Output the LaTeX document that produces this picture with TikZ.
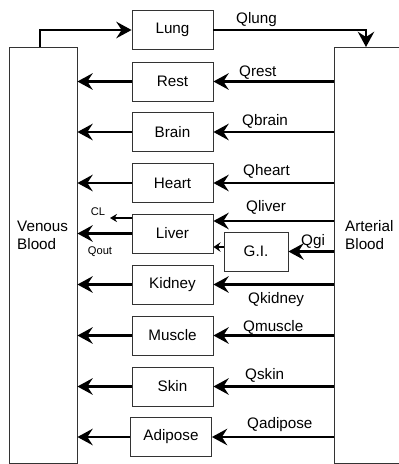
\documentclass[tikz,border=0pt]{standalone}
\usepackage{fontspec}
\setmainfont{Liberation Sans}
\usetikzlibrary{arrows.meta,calc}

\begin{document}
\begin{tikzpicture}[x=0.03cm, y=-0.03cm,
  organ/.style={draw=black!80, line width=0.7pt, minimum width=2.43cm, minimum height=1.17cm, inner sep=0pt, font=\fontsize{13}{15.5}\selectfont},
  pool/.style={draw=black!80, line width=0.7pt, minimum height=12.48cm, inner sep=0pt},
  flow/.style={line width=2.4pt, -{Stealth[length=13pt,width=14pt,inset=4.5pt]}},
  smallflow/.style={line width=2.4pt, -{Stealth[length=6pt,width=8pt,inset=2pt]}},
  clflow/.style={line width=1.3pt, -{Stealth[length=6pt,width=7pt,inset=2pt]}},
  lbl/.style={anchor=base west, inner sep=0pt, font=\fontsize{13}{15.5}\selectfont},
  tiny/.style={inner sep=0pt, font=\fontsize{9.5}{11}\selectfont}]
\useasboundingbox (0,0) rectangle (399,464);

\node (venous) at (43,255) [pool, minimum width=2.04cm] {};
\node (arterial) at (377,255) [pool, minimum width=2.58cm] {};
\node (vtext) at (17,235) [anchor=west, align=left, inner sep=0pt, font=\fontsize{13}{15.5}\selectfont] {Venous\\Blood};
\node (atext) at (345,235) [anchor=west, align=left, inner sep=0pt, font=\fontsize{13}{15.5}\selectfont] {Arterial\\Blood};

\node (lung) at (172.5,30) [organ] {Lung};
\node (rest) at (172.5,81.5) [organ] {Rest};
\node (brain) at (172.5,132) [organ] {Brain};
\node (heart) at (172.5,183) [organ] {Heart};
\node (liver) at (172.5,233.5) [organ] {Liver};
\node (kidney) at (172.5,284.5) [organ] {Kidney};
\node (muscle) at (172.5,335.5) [organ] {Muscle};
\node (skin) at (172.5,386.5) [organ] {Skin};
\node (adipose) at (171,437) [organ] {Adipose};
\node (gi) at (256,251.5) [organ, minimum width=1.92cm] {G.I.};

\coordinate (vtop) at (40,47);
\coordinate (atop) at (366,47);
\draw [flow] (vtop) |- (lung.west);
\draw [flow] (lung.east) -| (atop);

\draw [flow] (rest.east -| arterial.west) -- (rest.east);
\draw [flow] (rest.west) -- (rest.west -| venous.east);
\draw [flow] (brain.east -| arterial.west) -- (brain.east);
\draw [flow] (brain.west) -- (brain.west -| venous.east);
\draw [flow] (heart.east -| arterial.west) -- (heart.east);
\draw [flow] (heart.west) -- (heart.west -| venous.east);
\draw [flow] (kidney.east -| arterial.west) -- (kidney.east);
\draw [flow] (kidney.west) -- (kidney.west -| venous.east);
\draw [flow] (muscle.east -| arterial.west) -- (muscle.east);
\draw [flow] (muscle.west) -- (muscle.west -| venous.east);
\draw [flow] (skin.east -| arterial.west) -- (skin.east);
\draw [flow] (skin.west) -- (skin.west -| venous.east);
\draw [flow] (adipose.east -| arterial.west) -- (adipose.east);
\draw [flow] (adipose.west) -- (adipose.west -| venous.east);

\coordinate (lin) at ($(liver.east)+(0,-12.5)$);
\coordinate (gout) at ($(gi.west)+(0,-4.5)$);
\coordinate (clstart) at ($(liver.west)+(0,-15.5)$);
\coordinate (clend) at (110,218);
\draw [flow] (lin -| arterial.west) -- (lin);
\draw [flow] (gi.east -| arterial.west) -- (gi.east);
\draw [smallflow] (gout) -- (gout -| liver.east);
\draw [clflow] (clstart) -- (clend);
\draw [flow] (liver.west) -- (liver.west -| venous.east);

\node (qlung) at (236,23) [lbl] {Qlung};
\node (qrest) at (239,76) [lbl] {Qrest};
\node (qbrain) at (242,125) [lbl] {Qbrain};
\node (qheart) at (243,175) [lbl] {Qheart};
\node (qliver) at (246,211) [lbl] {Qliver};
\node (qgi) at (301,245) [lbl] {Qgi};
\node (qkidney) at (248,303) [lbl] {Qkidney};
\node (qmuscle) at (243,331) [lbl] {Qmuscle};
\node (qskin) at (245,379) [lbl] {Qskin};
\node (qadipose) at (247,428) [lbl] {Qadipose};
\node (cl) at (98,212) [tiny] {CL};
\node (qout) at (100,252) [tiny] {Qout};
\end{tikzpicture}
\end{document}
